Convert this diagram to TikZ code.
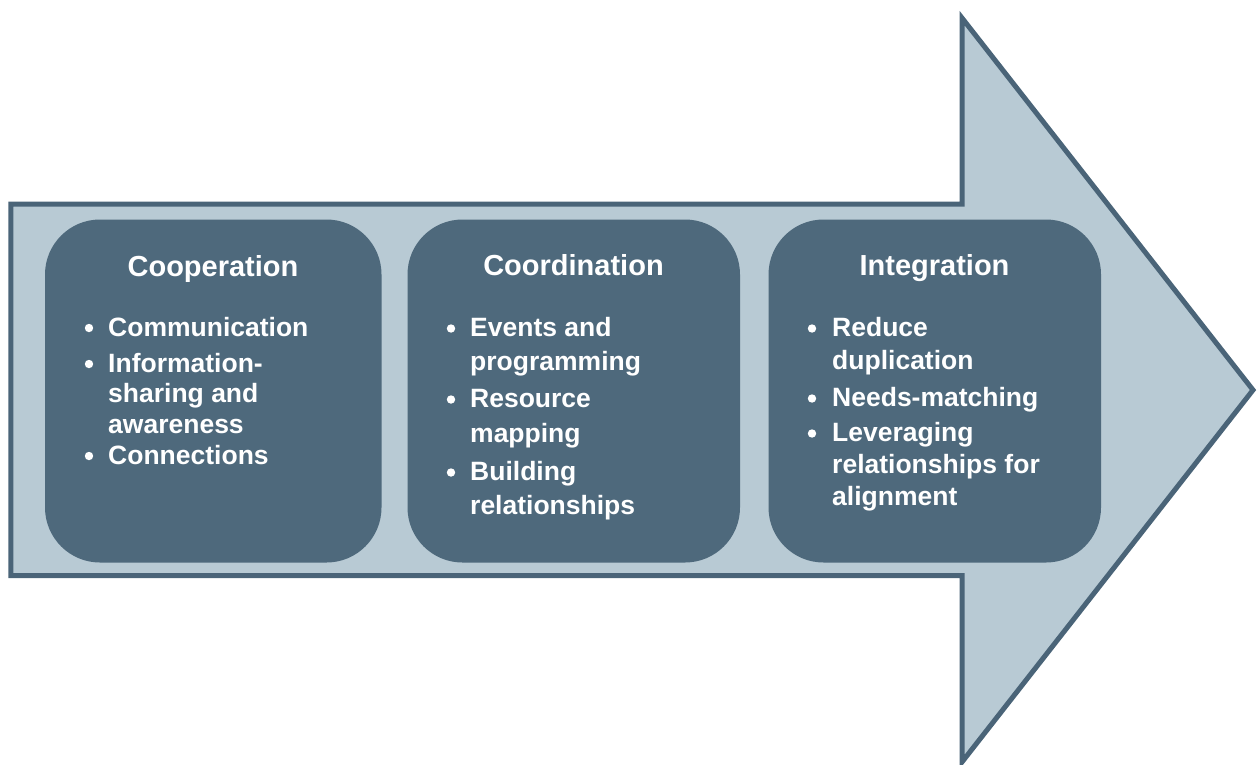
\documentclass[tikz,border=0pt]{standalone}
\usepackage{fontspec}
\setmainfont{Liberation Sans}
\definecolor{arrowfill}{RGB}{184,202,212}
\definecolor{arrowline}{RGB}{74,100,120}
\definecolor{boxfill}{RGB}{78,105,124}
\tikzset{
  bigarrow/.style={draw=arrowline, line width=5, fill=arrowfill, miter limit=10},
  stagebox/.style={fill=boxfill, rounded corners=55},
  stagetitle/.style={text=white, font=\fontsize{29}{34}\selectfont\bfseries, inner sep=0, anchor=base},
  itemline/.style={text=white, font=\fontsize{26.5}{31}\selectfont\bfseries, inner sep=0, anchor=base west},
  bulletdot/.style={circle, fill=white, minimum size=8.4, inner sep=0}
}
\begin{document}
\begin{tikzpicture}[x=1pt,y=-1pt]
\useasboundingbox (0,0) rectangle (1257,764);
% big arrow
\draw[bigarrow] (10.8,204) -- (962,204) -- (962,18) -- (1253,390) -- (962,762) -- (962,575.5) -- (10.8,575.5) -- cycle;
% boxes
\fill[stagebox] (45,219.5) rectangle (381.5,562.5);
\fill[stagebox] (407.5,219.5) rectangle (740,562.5);
\fill[stagebox] (768.5,219.5) rectangle (1101,562.5);
% titles
\node[stagetitle] (t1) at (213,276) {Cooperation};
\node[stagetitle] (t2) at (573.5,275.5) {Coordination};
\node[stagetitle] (t3) at (934.5,275.5) {Integration};
% box 1
\node[bulletdot] (b11) at (89,328) {};
\node[itemline] (l11) at (108,336) {Communication};
\node[bulletdot] (b12) at (89,364) {};
\node[itemline] (l12) at (108,372) {Information-};
\node[itemline] (l13) at (108,402.5) {sharing and};
\node[itemline] (l14) at (108,433) {awareness};
\node[bulletdot] (b13) at (89,456) {};
\node[itemline] (l15) at (108,464) {Connections};
% box 2
\node[bulletdot] (b21) at (451,328.5) {};
\node[itemline] (l21) at (470,336) {Events and};
\node[itemline] (l22) at (470,370) {programming};
\node[bulletdot] (b22) at (451,399.5) {};
\node[itemline] (l23) at (470,407) {Resource};
\node[itemline] (l24) at (470,442) {mapping};
\node[bulletdot] (b23) at (451,472.5) {};
\node[itemline] (l25) at (470,480) {Building};
\node[itemline] (l26) at (470,514) {relationships};
% box 3
\node[bulletdot] (b31) at (812,328.5) {};
\node[itemline] (l31) at (832,336) {Reduce};
\node[itemline] (l32) at (832,369) {duplication};
\node[bulletdot] (b32) at (812,398.5) {};
\node[itemline] (l33) at (832,406) {Needs-matching};
\node[bulletdot] (b33) at (812,433.5) {};
\node[itemline] (l34) at (832,441) {Leveraging};
\node[itemline] (l35) at (832,473) {relationships for};
\node[itemline] (l36) at (832,505) {alignment};
\end{tikzpicture}
\end{document}
